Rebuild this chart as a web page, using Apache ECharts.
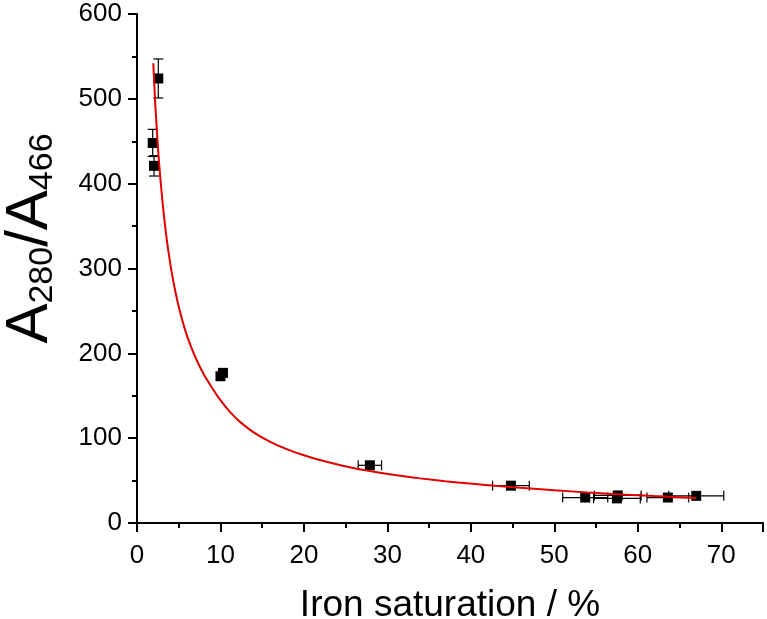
<!DOCTYPE html>
<html>
<head>
<meta charset="utf-8">
<script src="https://cdn.jsdelivr.net/npm/echarts@6/dist/echarts.min.js"></script>
<style>
html,body{margin:0;padding:0;background:#fff;}
#chart{width:767px;height:619px;}
</style>
</head>
<body>
<div id="chart"></div>
<script>
// Measured points
const xVals = [1.88, 2.04, 2.55, 10.0, 10.3, 27.9, 44.8, 53.7, 57.5, 57.6, 63.6, 67.0];
const yVals = [448, 421, 524, 173, 177, 68, 44, 30, 29, 32.5, 30, 32];
const xErr  = [0, 0, 0, 0, 0, 1.4, 2.2, 2.7, 2.8, 2.8, 2.5, 3.3];
const yErr  = [16, 12, 23, 0, 0, 0, 0, 0, 0, 0, 0, 0];

// Fitted curve
const fitX = [1.95, 2.2, 2.5, 2.8, 3.1, 3.45, 3.75, 4.15, 4.55, 5.1, 5.75, 6.5, 7.34, 8.1, 8.95, 9.8, 10.74, 11.5, 12.34, 13.93, 15.9, 17.93, 19.9, 21.9, 24.9, 27.9, 30.9, 33.9, 36.9, 39.9, 42.9, 45.9, 50, 54, 58, 62, 67];
const fitY = [542, 492, 444, 406, 374, 343, 321, 296, 275, 251, 228, 207, 188, 173.5, 160, 147.4, 135.5, 127.1, 119.2, 107.2, 96, 87, 80.1, 74.2, 67, 61.2, 56.5, 52.6, 49.3, 46.5, 43.9, 41.6, 38.6, 36, 33.7, 31.7, 29.4];

// Axis ticks
const xMin = 0, xMax = 75, xStep = 10;
const yMin = 0, yMax = 600, yStep = 100;

const FONT = '"Liberation Sans", Arial, sans-serif';

const pts = xVals.map((x, i) => [x, yVals[i]]);
const errData = xVals.map((x, i) => [x, yVals[i], xErr[i], yErr[i]]);
const fitData = fitX.map((x, i) => [x, fitY[i]]);

function renderErr(params, api) {
  const x = api.value(0), y = api.value(1), xe = api.value(2), ye = api.value(3);
  const cap = 5;
  const st = { stroke: '#000', lineWidth: 1.2 };
  const ch = [];
  const ln = (x1, y1, x2, y2) => ({ type: 'line', shape: { x1, y1, x2, y2 }, style: st });
  if (ye > 0) {
    const a = api.coord([x, y + ye]), b = api.coord([x, y - ye]);
    ch.push(ln(a[0], a[1], b[0], b[1]), ln(a[0] - cap, a[1], a[0] + cap, a[1]), ln(b[0] - cap, b[1], b[0] + cap, b[1]));
  }
  if (xe > 0) {
    const a = api.coord([x - xe, y]), b = api.coord([x + xe, y]);
    ch.push(ln(a[0], a[1], b[0], b[1]), ln(a[0], a[1] - cap, a[0], a[1] + cap), ln(b[0], b[1] - cap, b[0], b[1] + cap));
  }
  return { type: 'group', children: ch };
}

const chart = echarts.init(document.getElementById('chart'), null, { renderer: 'canvas' });
const axisCommon = {
  axisLine: { show: true, onZero: false, lineStyle: { color: '#000', width: 2 } },
  axisTick: { show: true, inside: false, length: 9, lineStyle: { color: '#000', width: 2 } },
  minorTick: { show: true, splitNumber: 2, length: 5, lineStyle: { color: '#000', width: 2 } },
  splitLine: { show: false },
  axisLabel: { color: '#000', fontSize: 26, fontFamily: FONT }
};
chart.setOption({
  animation: false,
  backgroundColor: '#fff',
  grid: { left: 137, right: 4, top: 14, bottom: 96, containLabel: false, outerBoundsMode: 'none' },
  xAxis: Object.assign({}, axisCommon, {
    type: 'value', min: xMin, max: xMax, interval: xStep,
    axisLabel: Object.assign({}, axisCommon.axisLabel, { margin: 20, showMaxLabel: false }),
    name: 'Iron saturation / %', nameLocation: 'middle', nameGap: 64,
    nameTextStyle: { color: '#000', fontSize: 37, fontFamily: FONT }
  }),
  yAxis: Object.assign({}, axisCommon, {
    type: 'value', min: yMin, max: yMax, interval: yStep,
    axisLabel: Object.assign({}, axisCommon.axisLabel, { margin: 15 }),
    name: '{a|A}{s|280}{a|/A}{s|466}', nameLocation: 'middle', nameRotate: 90, nameGap: 77,
    nameTextStyle: {
      color: '#000', fontFamily: FONT, padding: [0, 0, 0, 60],
      rich: {
        a: { fontSize: 60, lineHeight: 60, fontFamily: FONT, color: '#000', verticalAlign: 'top' },
        s: { fontSize: 34, lineHeight: 34, fontFamily: FONT, color: '#000', verticalAlign: 'bottom', padding: [32, 0, 0, 0] }
      }
    }
  }),
  series: [
    { type: 'custom', renderItem: renderErr, data: errData, encode: { x: 0, y: 1 }, z: 1, silent: true },
    { type: 'scatter', data: pts, symbol: 'rect', symbolSize: 10, itemStyle: { color: '#000', opacity: 1 }, z: 2 },
    { type: 'line', data: fitData, smooth: 0.2, showSymbol: false, symbol: 'none',
      lineStyle: { color: '#e00000', width: 2 }, z: 3 }
  ]
});
</script>
</body>
</html>
